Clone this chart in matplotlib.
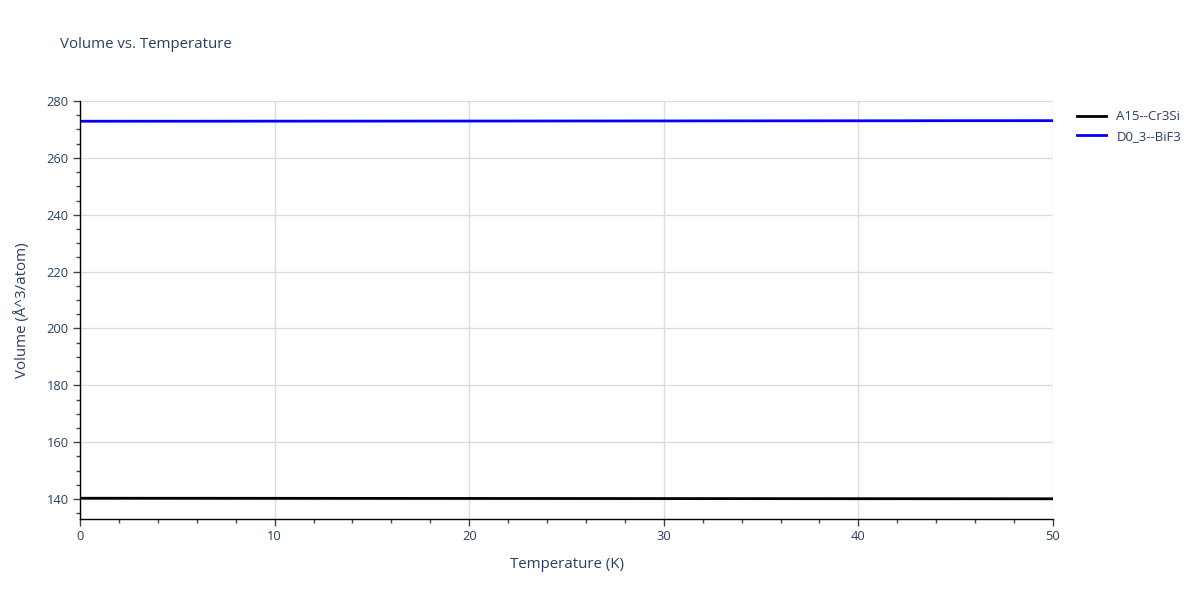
import matplotlib
matplotlib.use("Agg")
import matplotlib.pyplot as plt
from matplotlib.ticker import MultipleLocator

plt.rcParams['font.family'] = ['Open Sans', 'DejaVu Sans']

temperature = [0, 5, 10, 15, 20, 25, 30, 35, 40, 45, 50]
vol_a15 = [140.30, 140.29, 140.27, 140.25, 140.23, 140.21, 140.19, 140.17, 140.15, 140.13, 140.11]
vol_d03 = [272.88, 272.89, 272.91, 272.93, 272.95, 272.97, 272.99, 273.02, 273.04, 273.07, 273.09]
series_names = ["A15--Cr3Si", "D0_3--BiF3"]
series_colors = ["#000000", "#0000ff"]

text_color = "#2a3f5f"
grid_color = "#dcdcdc"

fig = plt.figure(figsize=(12, 6), dpi=100)
ax = fig.add_axes([80/1200, 1-519/600, (1053-80)/1200, (519-101)/600])

ax.plot(temperature, vol_a15, color=series_colors[0], lw=2, label=series_names[0])
ax.plot(temperature, vol_d03, color=series_colors[1], lw=2, label=series_names[1])

ax.set_xlim(0, 50)
ax.set_ylim(133, 280)
ax.xaxis.set_major_locator(MultipleLocator(10))
ax.xaxis.set_minor_locator(MultipleLocator(2))
ax.yaxis.set_major_locator(MultipleLocator(20))
ax.yaxis.set_minor_locator(MultipleLocator(5))
ax.grid(True, which="major", color=grid_color, lw=1)
ax.set_axisbelow(True)

for s in ["top", "right"]:
    ax.spines[s].set_visible(False)
for s in ["left", "bottom"]:
    ax.spines[s].set_color("black")
    ax.spines[s].set_linewidth(1)

ax.tick_params(axis="both", which="major", direction="out", length=5, width=1,
               color="#444444", labelcolor=text_color, labelsize=9.3, pad=3)
ax.tick_params(axis="both", which="minor", direction="out", length=3, width=1,
               color="#444444")

ax.set_xlabel("Temperature (K)", color=text_color, fontsize=10.8, labelpad=10)
ax.set_ylabel("Volume (Å^3/atom)", color=text_color, fontsize=10.8, labelpad=12)

fig.text(60/1200, 1-45/600, "Volume vs. Temperature", color=text_color,
         fontsize=10.8, va="center", ha="left")

leg = ax.legend(loc="upper left", bbox_to_anchor=(1.015, 1.0), frameon=False,
                fontsize=9.5, handlelength=2.2, labelspacing=0.5, borderaxespad=0.3)
for t in leg.get_texts():
    t.set_color(text_color)

fig.savefig("out.png", dpi=100, facecolor="white")
